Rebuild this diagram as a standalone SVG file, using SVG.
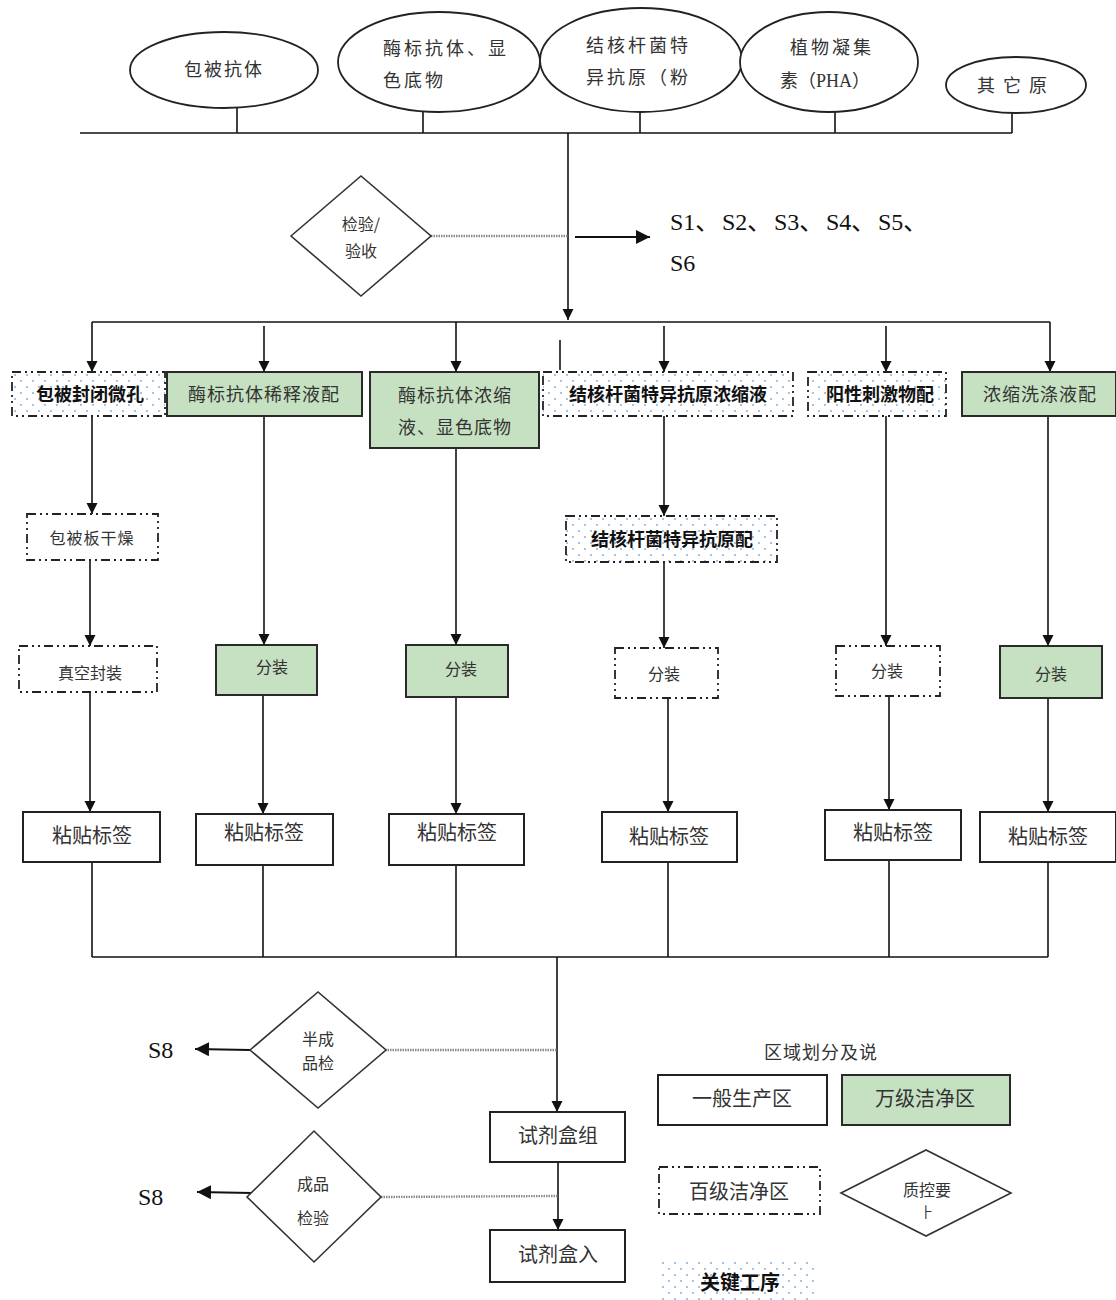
<svg xmlns="http://www.w3.org/2000/svg" width="1116" height="1300" viewBox="0 0 1116 1300">
  <style>
    .cjk { font-family: "Noto Sans CJK SC", "Noto Sans", sans-serif; fill: #333; }
    .t18 { font-size: 18px; }
    .t17 { font-size: 16px; }
    .t20 { font-size: 20px; }
    .b { font-weight: bold; fill: #111; }
    .ser { font-family: "Liberation Serif", "Noto Sans CJK SC", serif; font-size: 24px; fill: #111; }
    .line { stroke: #111; stroke-width: 1.6; fill: none; }
    .arr { stroke: #111; stroke-width: 1.6; fill: none; marker-end: url(#ah); }
    .arr2 { stroke: #111; stroke-width: 2.2; fill: none; marker-end: url(#ahb); }
    .dotted { stroke: #8a8a8a; stroke-width: 2.4; stroke-dasharray: 1.5 1; fill: none; }
    .solid { fill: #fff; stroke: #222; stroke-width: 2; }
    .green { fill: #c6e1c1; stroke: #2a2a2a; stroke-width: 2; }
    .dd { fill: none; stroke: #222; stroke-width: 1.8; stroke-dasharray: 9 4 2 4 2 4; }
    .dots { fill: url(#dotpat); stroke: none; }
    .ell { fill: #fff; stroke: #222; stroke-width: 1.8; }
    .dia { fill: #fff; stroke: #333; stroke-width: 1.6; }
  </style>
  <defs>
    <marker id="ah" viewBox="0 0 10 10" refX="10" refY="5" markerWidth="11" markerHeight="12" markerUnits="userSpaceOnUse" orient="auto">
      <path d="M0,0 L10,5 L0,10 Z" fill="#111"/>
    </marker>
    <marker id="ahb" viewBox="0 0 10 10" refX="10" refY="5" markerWidth="14" markerHeight="14" markerUnits="userSpaceOnUse" orient="auto">
      <path d="M0,0 L10,5 L0,10 Z" fill="#111"/>
    </marker>
    <pattern id="dotpat" width="12" height="12" patternUnits="userSpaceOnUse">
      <circle cx="3" cy="3" r="0.9" fill="#7aa7d9"/>
      <circle cx="9" cy="9" r="0.9" fill="#7aa7d9"/>
    </pattern>
  </defs>

  <rect width="1116" height="1300" fill="#fff"/>

  <!-- connectors -->
  <g id="connectors">
    <!-- raw material bus -->
    <line class="line" x1="80" y1="133" x2="1012" y2="133"/>
    <line class="line" x1="237" y1="108" x2="237" y2="133"/>
    <line class="line" x1="423" y1="112" x2="423" y2="133"/>
    <line class="line" x1="640" y1="112" x2="640" y2="133"/>
    <line class="line" x1="835" y1="112" x2="835" y2="133"/>
    <line class="line" x1="1012" y1="112" x2="1012" y2="133"/>
    <line class="arr" x1="568" y1="133" x2="568" y2="320"/>
    <line class="dotted" x1="431" y1="236" x2="568" y2="236"/>
    <line class="arr2" x1="575" y1="237" x2="650" y2="237"/>

    <!-- distribution bus -->
    <line class="line" x1="92" y1="322" x2="1050" y2="322"/>
    <line class="arr" x1="92" y1="322" x2="92" y2="372"/>
    <line class="arr" x1="264" y1="326" x2="264" y2="372"/>
    <line class="arr" x1="456" y1="322" x2="456" y2="372"/>
    <line class="line" x1="560" y1="340" x2="560" y2="370"/>
    <line class="arr" x1="664" y1="326" x2="664" y2="372"/>
    <line class="arr" x1="886" y1="326" x2="886" y2="372"/>
    <line class="arr" x1="1050" y1="322" x2="1050" y2="372"/>

    <!-- column 1 -->
    <line class="arr" x1="92" y1="416" x2="92" y2="514"/>
    <line class="arr" x1="90" y1="560" x2="90" y2="646"/>
    <line class="arr" x1="90" y1="692" x2="90" y2="812"/>
    <!-- column 2 -->
    <line class="arr" x1="264" y1="416" x2="264" y2="645"/>
    <line class="arr" x1="263" y1="695" x2="263" y2="814"/>
    <!-- column 3 -->
    <line class="arr" x1="456" y1="448" x2="456" y2="645"/>
    <line class="arr" x1="456" y1="697" x2="456" y2="814"/>
    <!-- column 4 -->
    <line class="arr" x1="664" y1="416" x2="664" y2="516"/>
    <line class="arr" x1="664" y1="562" x2="664" y2="648"/>
    <line class="arr" x1="668" y1="698" x2="668" y2="812"/>
    <!-- column 5 -->
    <line class="arr" x1="886" y1="416" x2="886" y2="646"/>
    <line class="arr" x1="889" y1="696" x2="889" y2="810"/>
    <!-- column 6 -->
    <line class="arr" x1="1048" y1="416" x2="1048" y2="646"/>
    <line class="arr" x1="1048" y1="698" x2="1048" y2="812"/>

    <!-- collection bus -->
    <line class="line" x1="92" y1="862" x2="92" y2="957"/>
    <line class="line" x1="263" y1="865" x2="263" y2="957"/>
    <line class="line" x1="456" y1="865" x2="456" y2="957"/>
    <line class="line" x1="668" y1="862" x2="668" y2="957"/>
    <line class="line" x1="889" y1="860" x2="889" y2="957"/>
    <line class="line" x1="1048" y1="862" x2="1048" y2="957"/>
    <line class="line" x1="92" y1="957" x2="1048" y2="957"/>
    <line class="arr" x1="557" y1="957" x2="557" y2="1112"/>
    <line class="dotted" x1="385" y1="1050" x2="557" y2="1050"/>
    <line class="arr2" x1="250" y1="1050" x2="195" y2="1049"/>
    <line class="arr" x1="558" y1="1162" x2="558" y2="1230"/>
    <line class="dotted" x1="381" y1="1197" x2="558" y2="1196"/>
    <line class="arr2" x1="252" y1="1193" x2="197" y2="1192"/>
  </g>

  <!-- raw materials -->
  <g id="raw-coating-antibody">
    <ellipse class="ell" cx="224" cy="70" rx="94" ry="38"/>
    <text class="cjk t18" x="224" y="76" text-anchor="middle" letter-spacing="2">包被抗体</text>
  </g>
  <g id="raw-enzyme-antibody">
    <ellipse class="ell" cx="439" cy="62" rx="101" ry="50"/>
    <text class="cjk t18" x="383" y="55" letter-spacing="3">酶标抗体、显</text>
    <text class="cjk t18" x="383" y="87" letter-spacing="3">色底物</text>
  </g>
  <g id="raw-tb-antigen">
    <ellipse class="ell" cx="641" cy="60" rx="101" ry="52"/>
    <text class="cjk t18" x="586" y="52" letter-spacing="3">结核杆菌特</text>
    <text class="cjk t18" x="586" y="84" letter-spacing="3">异抗原（粉</text>
  </g>
  <g id="raw-pha">
    <ellipse class="ell" cx="829" cy="62" rx="89" ry="50"/>
    <text class="cjk t18" x="790" y="54" letter-spacing="3">植物凝集</text>
    <text class="cjk t18" x="780" y="87">素（<tspan font-family="Liberation Serif, serif">PHA</tspan>）</text>
  </g>
  <g id="raw-other">
    <ellipse class="ell" cx="1016" cy="85" rx="70" ry="28"/>
    <text class="cjk t18" x="1016" y="92" text-anchor="middle" letter-spacing="8">其它原</text>
  </g>

  <!-- incoming inspection -->
  <g id="qc-incoming">
    <polygon class="dia" points="291,236 361,176 431,236 361,296"/>
    <text class="cjk t17" x="361" y="230" text-anchor="middle">检验/</text>
    <text class="cjk t17" x="361" y="257" text-anchor="middle">验收</text>
  </g>
  <g id="out-s1-s6">
    <text class="ser" y="230"><tspan x="670">S1、</tspan><tspan x="722">S2、</tspan><tspan x="774">S3、</tspan><tspan x="826">S4、</tspan><tspan x="878">S5、</tspan></text>
    <text class="ser" x="670" y="271">S6</text>
  </g>

  <!-- first stage -->
  <g id="coating-block">
    <rect class="dots" x="12" y="372" width="153" height="44"/>
    <rect class="dd" x="12" y="372" width="153" height="44"/>
    <text class="cjk t18 b" x="90" y="401" text-anchor="middle">包被封闭微孔</text>
  </g>
  <g id="enzyme-dilution">
    <rect class="green" x="167" y="372" width="195" height="44"/>
    <text class="cjk t18" x="264" y="401" text-anchor="middle" letter-spacing="1">酶标抗体稀释液配</text>
  </g>
  <g id="enzyme-concentrate">
    <rect class="green" x="370" y="372" width="169" height="76"/>
    <text class="cjk t18" x="455" y="402" text-anchor="middle" letter-spacing="1">酶标抗体浓缩</text>
    <text class="cjk t18" x="455" y="434" text-anchor="middle" letter-spacing="1">液、显色底物</text>
  </g>
  <g id="tb-antigen-concentrate">
    <rect class="dots" x="543" y="372" width="250" height="44"/>
    <rect class="dd" x="543" y="372" width="250" height="44"/>
    <text class="cjk t18 b" x="668" y="401" text-anchor="middle">结核杆菌特异抗原浓缩液</text>
  </g>
  <g id="positive-stimulant">
    <rect class="dots" x="808" y="372" width="138" height="44"/>
    <rect class="dd" x="808" y="372" width="138" height="44"/>
    <text class="cjk t18 b" x="880" y="401" text-anchor="middle">阳性刺激物配</text>
  </g>
  <g id="wash-concentrate">
    <rect class="green" x="962" y="372" width="154" height="44"/>
    <text class="cjk t18" x="1040" y="401" text-anchor="middle" letter-spacing="1">浓缩洗涤液配</text>
  </g>

  <!-- intermediate steps -->
  <g id="plate-drying">
    <rect class="dd" x="27" y="514" width="131" height="46"/>
    <text class="cjk t17" x="92" y="544" text-anchor="middle" letter-spacing="1">包被板干燥</text>
  </g>
  <g id="tb-antigen-prep">
    <rect class="dots" x="566" y="516" width="211" height="46"/>
    <rect class="dd" x="566" y="516" width="211" height="46"/>
    <text class="cjk t18 b" x="672" y="546" text-anchor="middle">结核杆菌特异抗原配</text>
  </g>
  <g id="vacuum-seal">
    <rect class="dd" x="19" y="646" width="138" height="46"/>
    <text class="cjk t17" x="90" y="679" text-anchor="middle">真空封装</text>
  </g>

  <!-- dispensing -->
  <g id="fill-2">
    <rect class="green" x="216" y="645" width="101" height="50"/>
    <text class="cjk t17" x="272" y="673" text-anchor="middle">分装</text>
  </g>
  <g id="fill-3">
    <rect class="green" x="406" y="645" width="102" height="52"/>
    <text class="cjk t17" x="461" y="675" text-anchor="middle">分装</text>
  </g>
  <g id="fill-4">
    <rect class="dd" x="615" y="648" width="103" height="50"/>
    <text class="cjk t17" x="664" y="680" text-anchor="middle">分装</text>
  </g>
  <g id="fill-5">
    <rect class="dd" x="836" y="646" width="104" height="50"/>
    <text class="cjk t17" x="887" y="677" text-anchor="middle">分装</text>
  </g>
  <g id="fill-6">
    <rect class="green" x="1000" y="646" width="102" height="52"/>
    <text class="cjk t17" x="1051" y="680" text-anchor="middle">分装</text>
  </g>

  <!-- labelling -->
  <g id="label-1">
    <rect class="solid" x="23" y="812" width="137" height="50"/>
    <text class="cjk t20" x="92" y="843" text-anchor="middle">粘贴标签</text>
  </g>
  <g id="label-2">
    <rect class="solid" x="196" y="814" width="137" height="51"/>
    <text class="cjk t20" x="264" y="840" text-anchor="middle">粘贴标签</text>
  </g>
  <g id="label-3">
    <rect class="solid" x="389" y="814" width="135" height="51"/>
    <text class="cjk t20" x="457" y="840" text-anchor="middle">粘贴标签</text>
  </g>
  <g id="label-4">
    <rect class="solid" x="602" y="812" width="135" height="50"/>
    <text class="cjk t20" x="669" y="844" text-anchor="middle">粘贴标签</text>
  </g>
  <g id="label-5">
    <rect class="solid" x="825" y="810" width="136" height="50"/>
    <text class="cjk t20" x="893" y="840" text-anchor="middle">粘贴标签</text>
  </g>
  <g id="label-6">
    <rect class="solid" x="980" y="812" width="136" height="50"/>
    <text class="cjk t20" x="1048" y="844" text-anchor="middle">粘贴标签</text>
  </g>

  <!-- semi-finished check -->
  <g id="qc-semi">
    <polygon class="dia" points="250,1050 318,992 386,1050 318,1108"/>
    <text class="cjk t17" x="318" y="1045" text-anchor="middle">半成</text>
    <text class="cjk t17" x="318" y="1069" text-anchor="middle">品检</text>
  </g>
  <text class="ser" x="148" y="1058">S8</text>

  <g id="kit-assembly">
    <rect class="solid" x="490" y="1112" width="135" height="50"/>
    <text class="cjk t20" x="558" y="1143" text-anchor="middle">试剂盒组</text>
  </g>

  <g id="qc-final">
    <polygon class="dia" points="247,1197 314,1131 381,1197 314,1262"/>
    <text class="cjk t17" x="313" y="1190" text-anchor="middle">成品</text>
    <text class="cjk t17" x="313" y="1224" text-anchor="middle">检验</text>
  </g>
  <text class="ser" x="138" y="1205">S8</text>

  <g id="kit-storage">
    <rect class="solid" x="490" y="1230" width="135" height="52"/>
    <text class="cjk t20" x="558" y="1262" text-anchor="middle">试剂盒入</text>
  </g>

  <!-- legend -->
  <g id="legend">
    <text class="cjk t18" x="821" y="1059" text-anchor="middle" letter-spacing="1">区域划分及说</text>
    <rect class="solid" x="658" y="1075" width="169" height="50"/>
    <text class="cjk t20" x="742" y="1106" text-anchor="middle">一般生产区</text>
    <rect class="green" x="842" y="1075" width="168" height="50"/>
    <text class="cjk t20" x="925" y="1106" text-anchor="middle">万级洁净区</text>
    <rect class="dd" x="659" y="1167" width="161" height="47"/>
    <text class="cjk t20" x="739" y="1199" text-anchor="middle">百级洁净区</text>
    <polygon class="dia" points="841,1193 926,1150 1011,1193 926,1236"/>
    <text class="cjk t17" x="927" y="1196" text-anchor="middle">质控要</text>
    <text class="cjk" font-size="14" x="927" y="1217" text-anchor="middle">⺊</text>
    <rect class="dots" x="660" y="1258" width="158" height="42"/>
    <text class="cjk t20 b" x="740" y="1290" text-anchor="middle">关键工序</text>
  </g>
</svg>
